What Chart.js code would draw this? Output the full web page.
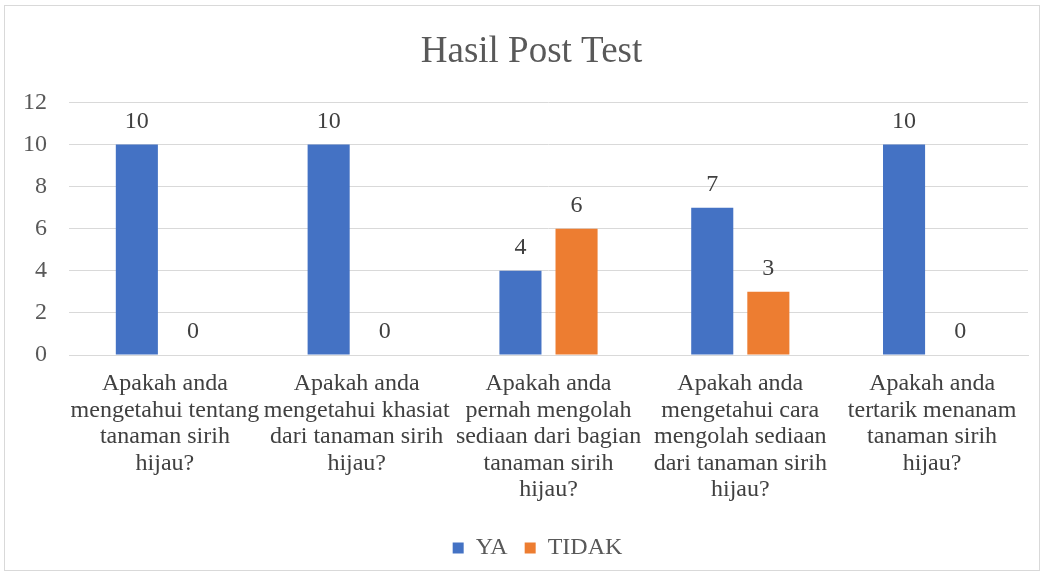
<!DOCTYPE html>
<html><head><meta charset="utf-8">
<script src="https://cdn.jsdelivr.net/npm/chart.js@4"></script>
<style>
html,body{margin:0;padding:0;background:#fff;overflow:hidden;width:1044px;height:576px;}
#frame{position:absolute;left:4px;top:5px;width:1036px;height:566px;border:1px solid #d9d9d9;box-sizing:border-box;pointer-events:none;z-index:2;}
#holder{position:absolute;left:1px;top:6px;width:1038px;height:564px;}
canvas{display:block;}
</style></head><body>
<div id="frame"></div>
<div id="holder"><canvas id="c"></canvas></div>
<script>
const categories = [
  ["Apakah anda","mengetahui tentang","tanaman sirih","hijau?"],
  ["Apakah anda","mengetahui khasiat","dari tanaman sirih","hijau?"],
  ["Apakah anda","pernah mengolah","sediaan dari bagian","tanaman sirih","hijau?"],
  ["Apakah anda","mengetahui cara","mengolah sediaan","dari tanaman sirih","hijau?"],
  ["Apakah anda","tertarik menanam","tanaman sirih","hijau?"]
];
const yaValues = [10, 10, 4, 7, 10];
const tidakValues = [0, 0, 6, 3, 0];
const yTicks = [0, 2, 4, 6, 8, 10, 12];

const FONT = "'Liberation Serif', 'Times New Roman', serif";

const dataLabels = {
  id: 'dataLabels',
  afterLayout(chart) {
    if (chart.titleBlock) { chart.titleBlock.left += 17; chart.titleBlock.right += 17; }
    if (chart.legend) { chart.legend.left += 23; chart.legend.right += 23; }
  },
  afterDatasetsDraw(chart) {
    const ctx = chart.ctx;
    ctx.save();
    ctx.font = "24px " + FONT;
    ctx.fillStyle = '#404040';
    ctx.textAlign = 'center';
    ctx.textBaseline = 'middle';
    chart.data.datasets.forEach((ds, i) => {
      chart.getDatasetMeta(i).data.forEach((bar, j) => {
        ctx.fillText(String(ds.data[j]), bar.x, bar.y - 23);
      });
    });
    ctx.restore();
  }
};

new Chart(document.getElementById('c'), {
  type: 'bar',
  data: {
    labels: categories,
    datasets: [
      {label: 'YA', data: yaValues, backgroundColor: '#4472C4', barPercentage: 0.75, categoryPercentage: 0.585},
      {label: 'TIDAK', data: tidakValues, backgroundColor: '#ED7D31', barPercentage: 0.75, categoryPercentage: 0.585}
    ]
  },
  options: {
    responsive: true,
    maintainAspectRatio: false,
    animation: false,
    layout: {autoPadding: false, padding: {left: 0, right: 11, top: 0, bottom: 0}},
    plugins: {
      title: {display: true, text: 'Hasil Post Test', color: '#595959', font: {family: FONT, size: 37, weight: 'normal', lineHeight: 1.2}, padding: {top: 24, bottom: 28}},
      legend: {position: 'bottom', labels: {color: '#595959', font: {family: FONT, size: 24}, boxWidth: 11, boxHeight: 11, padding: 17}},
      tooltip: {enabled: false}
    },
    scales: {
      x: {
        grid: {display: false, drawTicks: false},
        border: {display: true, color: '#d9d9d9'},
        ticks: {color: '#404040', font: {family: FONT, size: 24, lineHeight: 1.1}, maxRotation: 0, autoSkip: false, padding: 16},
        afterFit(axis) { axis.paddingLeft = 0; axis.paddingRight = 0; }
      },
      y: {
        min: 0, max: 12,
        afterBuildTicks(axis) { axis.ticks = yTicks.map(v => ({value: v})); },
        grid: {color: '#d9d9d9', drawTicks: false},
        border: {display: false},
        ticks: {color: '#595959', font: {family: FONT, size: 24}, padding: 22}
      }
    }
  },
  plugins: [dataLabels]
});
</script>
</body></html>
